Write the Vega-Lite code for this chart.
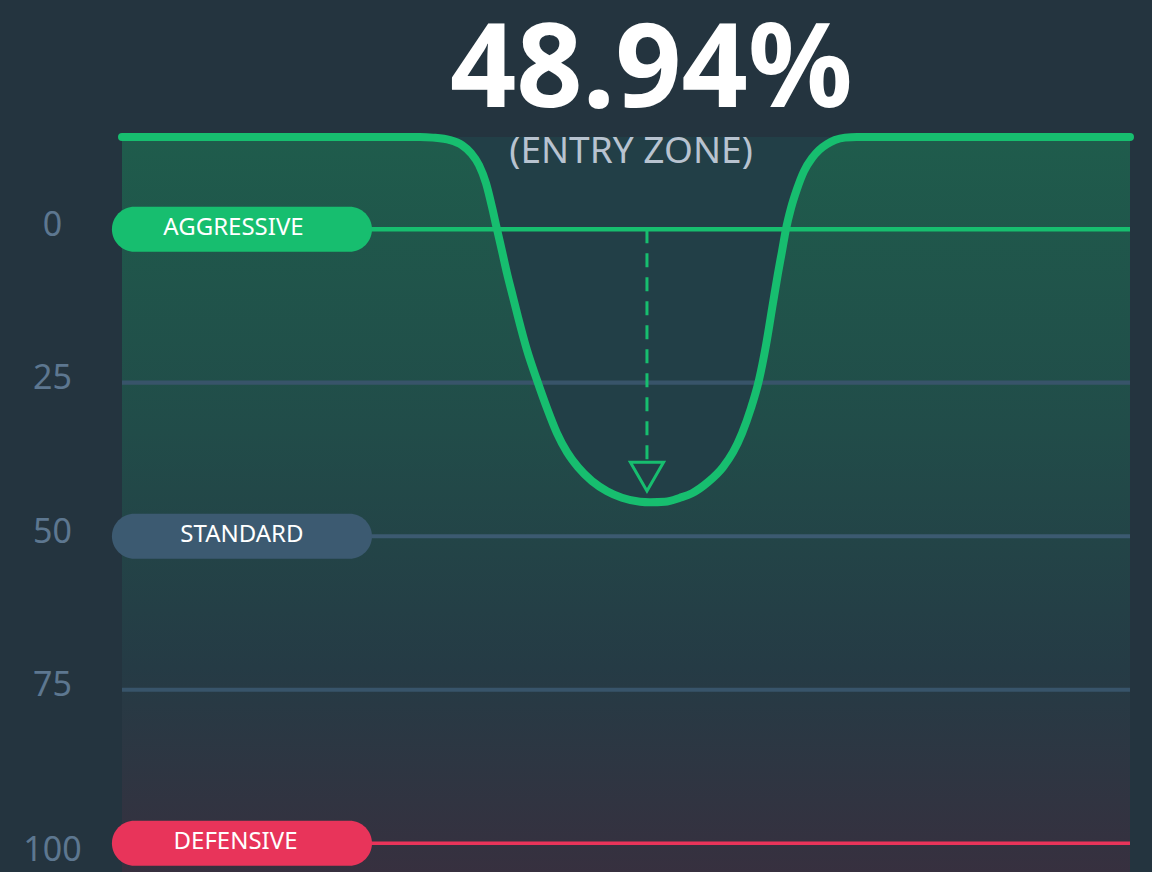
{
  "$schema": "https://vega.github.io/schema/vega-lite/v6.json",
  "width": 1008,
  "height": 737,
  "autosize": "none",
  "padding": {"left": 122, "top": 137, "right": 22, "bottom": 0},
  "background": "#24343f",
  "config": {
    "view": {"stroke": null, "fill": "#223f47"},
    "font": "Noto Sans"
  },
  "datasets": {
    "curve": [
      {"x": 0, "y": -15}, {"x": 29.56, "y": -15}, {"x": 30.85, "y": -14.9}, {"x": 32.54, "y": -14.5},
      {"x": 33.73, "y": -13.68}, {"x": 34.62, "y": -12.38}, {"x": 35.42, "y": -10.42}, {"x": 36.11, "y": -7.49},
      {"x": 36.71, "y": -3.58}, {"x": 37.2, "y": 0}, {"x": 37.7, "y": 3.58},
      {"x": 38.19, "y": 7.17}, {"x": 38.79, "y": 11.07}, {"x": 39.29, "y": 14.33}, {"x": 40.18, "y": 19.71},
      {"x": 41.17, "y": 24.59}, {"x": 42.16, "y": 29.15}, {"x": 43.15, "y": 33.22}, {"x": 44.15, "y": 36.32},
      {"x": 45.24, "y": 38.76}, {"x": 46.63, "y": 41.04}, {"x": 48.12, "y": 42.67}, {"x": 49.6, "y": 43.73},
      {"x": 51.39, "y": 44.38}, {"x": 52.38, "y": 44.46}, {"x": 53.87, "y": 44.38}, {"x": 55.36, "y": 43.73},
      {"x": 56.55, "y": 43.0}, {"x": 58.13, "y": 41.2}, {"x": 59.62, "y": 38.76}, {"x": 60.62, "y": 36.32},
      {"x": 61.51, "y": 33.22}, {"x": 62.4, "y": 29.15}, {"x": 63.19, "y": 24.59}, {"x": 63.89, "y": 18.89},
      {"x": 64.58, "y": 12.05}, {"x": 65.08, "y": 7.17}, {"x": 65.48, "y": 3.58}, {"x": 65.87, "y": 0},
      {"x": 66.37, "y": -3.42}, {"x": 66.96, "y": -6.51}, {"x": 67.66, "y": -9.45}, {"x": 68.45, "y": -11.56},
      {"x": 69.15, "y": -12.87}, {"x": 69.94, "y": -13.84}, {"x": 70.73, "y": -14.5}, {"x": 71.72, "y": -14.9},
      {"x": 72.92, "y": -15}, {"x": 100, "y": -15}
    ],
    "levels": [
      {"v": 0, "kind": "aggressive", "label": "AGGRESSIVE"},
      {"v": 25, "kind": "grid", "label": ""},
      {"v": 50, "kind": "standard", "label": "STANDARD"},
      {"v": 75, "kind": "grid", "label": ""},
      {"v": 100, "kind": "defensive", "label": "DEFENSIVE"}
    ],
    "marker": [
      {"x": 52.08, "from": 0, "to": 37.9, "tip": 40.3, "value": "48.94%", "zone": "(ENTRY ZONE)"}
    ]
  },
  "layer": [
    {
      "data": {"name": "curve"},
      "mark": {
        "type": "area",
        "interpolate": "monotone",
        "color": {
          "gradient": "linear", "x1": 0, "y1": 0, "x2": 0, "y2": 1,
          "stops": [
            {"offset": 0, "color": "#1f5c4c"},
            {"offset": 0.4, "color": "#214c49"},
            {"offset": 0.72, "color": "#253b45"},
            {"offset": 1, "color": "#37303f"}
          ]
        }
      },
      "encoding": {
        "x": {"field": "x", "type": "quantitative", "scale": {"domain": [0, 100], "nice": false, "zero": false, "padding": 0}, "axis": null},
        "y": {
          "field": "y", "type": "quantitative",
          "scale": {"domain": [-15, 105], "nice": false, "zero": false, "reverse": true, "padding": 0},
          "axis": {
            "values": [0, 25, 50, 75, 100], "domain": false, "ticks": false, "grid": false, "title": null,
            "labelFontSize": 34, "labelColor": "#5d7790", "labelAlign": "center", "labelBaseline": "middle",
            "labelPadding": 70, "labelFont": "Noto Sans", "labelFlush": false, "labelOverlap": false,
            "labelOffset": {"condition": {"test": "datum.value == 100", "value": 7}, "value": -4}
          }
        },
        "y2": {"datum": 105}
      }
    },
    {
      "data": {"name": "levels"},
      "mark": {"type": "rule"},
      "encoding": {
        "x": {"datum": 0, "type": "quantitative"},
        "x2": {"datum": 100},
        "y": {"field": "v", "type": "quantitative"},
        "color": {"field": "kind", "type": "nominal", "legend": null,
          "scale": {"domain": ["aggressive", "grid", "standard", "defensive"], "range": ["#17be6f", "#38546a", "#3c5a71", "#e8345a"]}},
        "size": {"field": "kind", "type": "nominal", "legend": null,
          "scale": {"domain": ["aggressive", "grid", "standard", "defensive"], "range": [4.5, 3.5, 3.5, 5]}}
      }
    },
    {
      "data": {"name": "curve"},
      "mark": {"type": "line", "interpolate": "monotone", "color": "#17be6f", "strokeWidth": 8, "strokeCap": "round", "strokeJoin": "round"},
      "encoding": {
        "x": {"field": "x", "type": "quantitative"},
        "y": {"field": "y", "type": "quantitative"}
      }
    },
    {
      "data": {"name": "marker"},
      "mark": {"type": "rule", "color": "#17be6f", "strokeWidth": 3, "strokeDash": [14, 10]},
      "encoding": {
        "x": {"field": "x", "type": "quantitative"},
        "y": {"field": "from", "type": "quantitative"},
        "y2": {"field": "to"}
      }
    },
    {
      "data": {"name": "marker"},
      "mark": {"type": "point", "shape": "triangle-down", "filled": false, "color": "#17be6f", "strokeWidth": 3, "size": 1100, "opacity": 1},
      "encoding": {
        "x": {"field": "x", "type": "quantitative"},
        "y": {"field": "tip", "type": "quantitative"}
      }
    },
    {
      "data": {"name": "levels"},
      "transform": [{"filter": "datum.label != ''"}],
      "mark": {"type": "bar", "orient": "horizontal", "size": 45, "cornerRadius": 22.5},
      "encoding": {
        "x": {"datum": -1, "type": "quantitative"},
        "x2": {"datum": 24.8},
        "y": {"field": "v", "type": "quantitative"},
        "color": {"field": "kind", "type": "nominal", "legend": null,
          "scale": {"domain": ["aggressive", "grid", "standard", "defensive"], "range": ["#17be6f", "#38546a", "#3b5a70", "#e8345a"]}}
      }
    },
    {
      "data": {"name": "levels"},
      "transform": [{"filter": "datum.kind == 'aggressive'"}],
      "mark": {"type": "text", "fontSize": 24, "color": "#ffffff", "align": "center", "baseline": "middle", "dy": -1},
      "encoding": {
        "x": {"datum": 11.06, "type": "quantitative"},
        "y": {"field": "v", "type": "quantitative"},
        "text": {"field": "label"}
      }
    },
    {
      "data": {"name": "levels"},
      "transform": [{"filter": "datum.kind == 'standard'"}],
      "mark": {"type": "text", "fontSize": 24, "color": "#ffffff", "align": "center", "baseline": "middle", "dy": -1},
      "encoding": {
        "x": {"datum": 11.9, "type": "quantitative"},
        "y": {"field": "v", "type": "quantitative"},
        "text": {"field": "label"}
      }
    },
    {
      "data": {"name": "levels"},
      "transform": [{"filter": "datum.kind == 'defensive'"}],
      "mark": {"type": "text", "fontSize": 24, "color": "#ffffff", "align": "center", "baseline": "middle", "dy": -1},
      "encoding": {
        "x": {"datum": 11.26, "type": "quantitative"},
        "y": {"field": "v", "type": "quantitative"},
        "text": {"field": "label"}
      }
    },
    {
      "data": {"name": "marker"},
      "mark": {"type": "text", "fontSize": 116, "fontWeight": "bold", "color": "#ffffff", "align": "center", "baseline": "alphabetic"},
      "encoding": {
        "x": {"datum": 52.5, "type": "quantitative"},
        "y": {"datum": -19.87, "type": "quantitative"},
        "text": {"field": "value"}
      }
    },
    {
      "data": {"name": "marker"},
      "mark": {"type": "text", "fontSize": 37, "color": "#b8c3d0", "align": "center", "baseline": "alphabetic"},
      "encoding": {
        "x": {"datum": 50.5, "type": "quantitative"},
        "y": {"datum": -10.75, "type": "quantitative"},
        "text": {"field": "zone"}
      }
    }
  ]
}
